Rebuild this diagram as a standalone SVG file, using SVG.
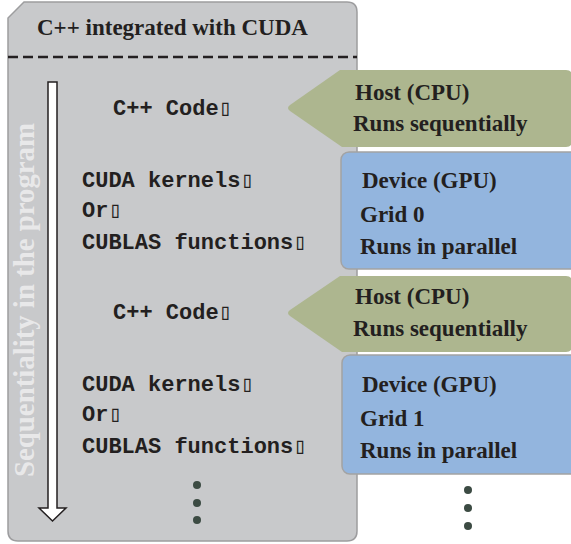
<svg xmlns="http://www.w3.org/2000/svg" width="571" height="544" viewBox="0 0 571 544">
<style>
.ser{font-family:"Liberation Serif","Times New Roman",serif;font-weight:bold;font-size:23px;fill:#231f20}
.mono{font-family:"Liberation Mono","Courier New","DejaVu Sans Mono",monospace;font-weight:bold;font-size:22px;fill:#231f20}
.host{fill:#adb68f}
.dev{fill:#93b5de;stroke:#a3a3a3;stroke-width:1.5}
.dot{fill:#3c4b43}
</style>
<rect width="571" height="544" fill="#ffffff"/>
<g id="panel">
<path d="M24,2 H347 Q357,2 357,12 V531 Q357,541 347,541 H18 Q8,541 8,531 V18 Z" fill="#c8c9cb" stroke="#9d9d9f" stroke-width="1.5"/>
<text class="ser" x="37" y="35">C++ integrated with CUDA</text>
<line x1="8" y1="57" x2="357" y2="57" stroke="#231f20" stroke-width="2.5" stroke-dasharray="10,5"/>
</g>
<g id="sequence">
<text class="ser" transform="translate(34,477) rotate(-90)" style="fill:#e8e8e9;font-size:28.5px" textLength="354" lengthAdjust="spacingAndGlyphs">Sequentiality in the program</text>
<path d="M48,82 H57 V508 H66 L52.5,521 L39,508 H48 Z" fill="#ffffff" stroke="#231f20" stroke-width="1.5" stroke-linejoin="miter"/>
</g>
<g id="code1"><text class="mono" x="113" y="115">C++ Code▯</text></g>
<g id="kernels0">
<text class="mono" x="82" y="187">CUDA kernels▯</text>
<text class="mono" x="82" y="217">Or▯</text>
<text class="mono" x="82" y="249">CUBLAS functions▯</text>
</g>
<g id="code2"><text class="mono" x="113" y="319">C++ Code▯</text></g>
<g id="kernels1">
<text class="mono" x="82" y="391">CUDA kernels▯</text>
<text class="mono" x="82" y="421">Or▯</text>
<text class="mono" x="82" y="453">CUBLAS functions▯</text>
</g>
<g id="dots-left">
<circle class="dot" cx="197" cy="485" r="4"/>
<circle class="dot" cx="197" cy="503" r="4"/>
<circle class="dot" cx="197" cy="520" r="4"/>
</g>
<g id="host1">
<path class="host" d="M340,70 H566 Q572,70 572,76 V141 Q572,147 566,147 H342 L290,111 Q286,108 290,105 Z"/>
<text class="ser" x="355" y="100">Host (CPU)</text>
<text class="ser" x="353" y="131">Runs sequentially</text>
</g>
<g id="device0">
<rect class="dev" x="341" y="152" width="240" height="117" rx="8"/>
<text class="ser" x="362" y="188">Device (GPU)</text>
<text class="ser" x="360" y="222">Grid 0</text>
<text class="ser" x="360" y="254">Runs in parallel</text>
</g>
<g id="host2">
<path class="host" d="M340,276 H566 Q572,276 572,282 V346 Q572,352 566,352 H342 L290,316 Q286,313 290,310 Z"/>
<text class="ser" x="355" y="304">Host (CPU)</text>
<text class="ser" x="353" y="336">Runs sequentially</text>
</g>
<g id="device1">
<rect class="dev" x="342" y="355" width="240" height="119" rx="8"/>
<text class="ser" x="362" y="392">Device (GPU)</text>
<text class="ser" x="360" y="426">Grid 1</text>
<text class="ser" x="360" y="458">Runs in parallel</text>
</g>
<g id="dots-right">
<circle class="dot" cx="468" cy="490" r="4"/>
<circle class="dot" cx="468" cy="508" r="4"/>
<circle class="dot" cx="468" cy="526" r="4"/>
</g>
<g id="connectors"></g>
</svg>
